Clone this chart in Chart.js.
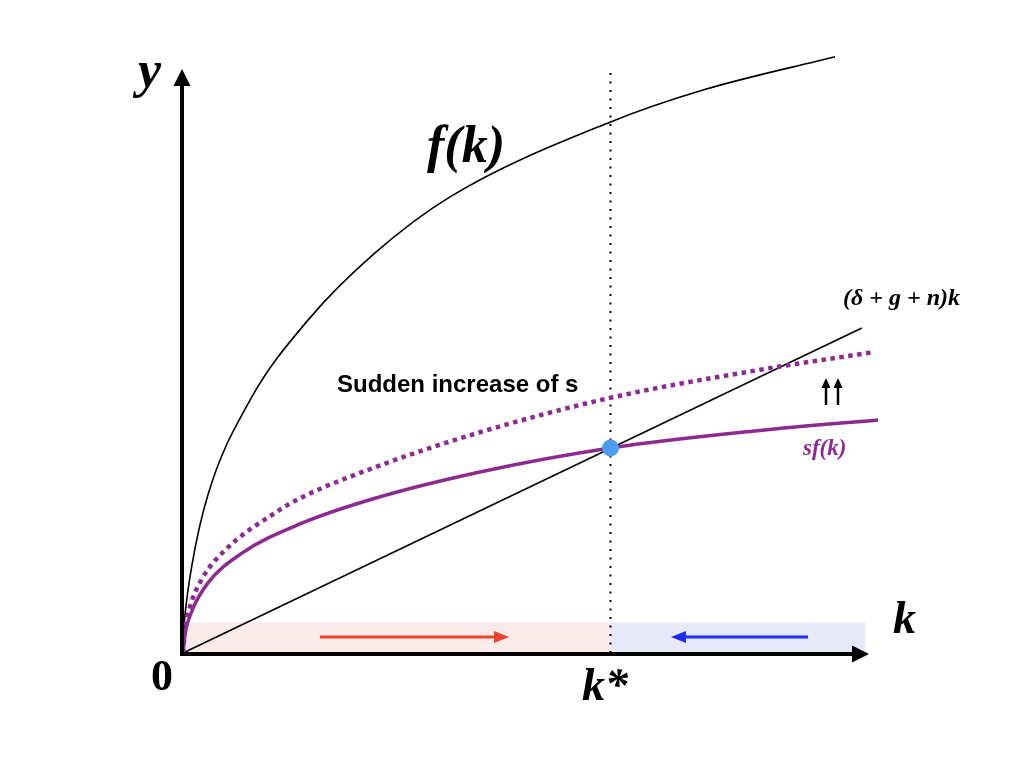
<!DOCTYPE html>
<html>
<head>
<meta charset="utf-8">
<script src="https://cdn.jsdelivr.net/npm/chart.js@4.4.1/dist/chart.umd.min.js"></script>
<style>
html,body{margin:0;padding:0;background:#fff;}
#wrap{width:1024px;height:768px;}
</style>
</head>
<body>
<div id="wrap"><canvas id="c" width="1024" height="768"></canvas></div>
<script>
// ---- data (k, y) ----
const fK   = [0, 0.012, 0.023, 0.105, 0.292, 0.784, 1.462, 2.246, 3.123, 4.994, 6.082, 7.626];
const fY   = [0, 0.45, 0.65, 1.51, 2.71, 4.33, 5.70, 6.85, 7.81, 9.09, 9.64, 10.21];

const sfK  = [0, 0.023, 0.105, 0.292, 0.690, 1.368, 2.246, 3.474, 5.0, 6.749, 8.129];
const sfY  = [0, 0.31, 0.72, 1.20, 1.71, 2.21, 2.65, 3.10, 3.51, 3.81, 3.99];

const sf2K = [0, 0.023, 0.082, 0.222, 0.491, 1.076, 1.368, 2.246, 3.474, 5.0, 6.749, 8.07];
const sf2Y = [0, 0.38, 0.79, 1.27, 1.76, 2.40, 2.65, 3.18, 3.78, 4.37, 4.85, 5.15];

const lineK = [0, 7.94];
const lineY = [0, 5.565];

const kStar = 5.0;
const yStar = 3.51;
const kStarLineY = [0, 10.02];

const bandTop = 0.52;
const bandEnd = 7.98;

const labels = {
  y: 'y', f: 'f(k)', dep: '(δ + g + n)k', sudden: 'Sudden increase of s',
  sf: 'sf(k)', k: 'k', zero: '0', kstar: 'k*'
};

const PURPLE = '#8C2A92';
const zip = (a, b) => a.map((v, i) => ({x: v, y: b[i]}));

function arrowHead(ctx, x, y, dx, dy, len, half, color) {
  const nx = -dy, ny = dx;
  ctx.beginPath();
  ctx.moveTo(x, y);
  ctx.lineTo(x - dx * len + nx * half, y - dy * len + ny * half);
  ctx.lineTo(x - dx * len - nx * half, y - dy * len - ny * half);
  ctx.closePath();
  ctx.fillStyle = color;
  ctx.fill();
}

const deco = {
  id: 'deco',
  beforeDatasetsDraw(chart) {
    const {ctx, scales: {x, y}} = chart;
    const x0 = x.getPixelForValue(0), xs = x.getPixelForValue(kStar), xe = x.getPixelForValue(bandEnd);
    const yb = y.getPixelForValue(0), yt = y.getPixelForValue(bandTop);
    ctx.save();
    ctx.fillStyle = '#FBEBE8';
    ctx.fillRect(x0, yt, xs - x0, yb - yt);
    ctx.fillStyle = '#E7E9FB';
    ctx.fillRect(xs, yt, xe - xs, yb - yt);
    // flow arrows
    const ay = 637;
    ctx.lineWidth = 3;
    ctx.strokeStyle = '#E8432B';
    ctx.beginPath(); ctx.moveTo(320, ay); ctx.lineTo(496, ay); ctx.stroke();
    arrowHead(ctx, 509, ay, 1, 0, 15, 6, '#E8432B');
    ctx.strokeStyle = '#1C2EF2';
    ctx.beginPath(); ctx.moveTo(808, ay); ctx.lineTo(684, ay); ctx.stroke();
    arrowHead(ctx, 671, ay, -1, 0, 15, 6, '#1C2EF2');
    ctx.restore();
  },
  afterDatasetsDraw(chart) {
    const {ctx, scales: {x, y}} = chart;
    const x0 = x.getPixelForValue(0), y0 = y.getPixelForValue(0);
    ctx.save();
    // axes
    ctx.strokeStyle = '#000';
    ctx.lineWidth = 4;
    ctx.beginPath();
    ctx.moveTo(x0 - 1, y0 + 1); ctx.lineTo(x0 - 1, 84);
    ctx.moveTo(x0 - 3, y0 + 1); ctx.lineTo(853, y0 + 1);
    ctx.stroke();
    arrowHead(ctx, x0 - 1, 69, 0, -1, 17, 8.5, '#000');
    arrowHead(ctx, 869, y0 + 1, 1, 0, 17, 8.5, '#000');
    // double up arrows
    ctx.lineWidth = 2.5;
    [826, 838].forEach(ax => {
      ctx.beginPath(); ctx.moveTo(ax, 405); ctx.lineTo(ax, 387); ctx.stroke();
      arrowHead(ctx, ax, 378, 0, -1, 10, 4.5, '#000');
    });
    // texts
    ctx.textBaseline = 'alphabetic';
    ctx.textAlign = 'left';
    ctx.fillStyle = '#000';
    ctx.font = 'italic bold 52px "Liberation Serif"';
    ctx.fillText(labels.y, 138, 87);
    ctx.fillText(labels.f, 427, 162);
    ctx.font = 'italic bold 46px "Liberation Serif"';
    ctx.fillText(labels.k, 893, 633);
    ctx.fillText(labels.kstar, 582, 700);
    ctx.font = 'bold 44px "Liberation Serif"';
    ctx.fillText(labels.zero, 151, 690);
    ctx.font = 'italic bold 24px "Liberation Serif"';
    ctx.fillText(labels.dep, 843, 305);
    ctx.font = 'bold 24px "Liberation Sans"';
    ctx.fillText(labels.sudden, 337, 392);
    ctx.fillStyle = PURPLE;
    ctx.font = 'italic bold 23px "Liberation Serif"';
    ctx.fillText(labels.sf, 803, 455);
    ctx.restore();
  }
};

const common = {showLine: true, pointRadius: 0, pointHoverRadius: 0, fill: false,
                cubicInterpolationMode: 'monotone', tension: 0.4, clip: false};

new Chart(document.getElementById('c'), {
  type: 'line',
  data: {
    datasets: [
      Object.assign({}, common, {order: 5, data: zip([kStar, kStar], kStarLineY), borderColor: '#000', borderWidth: 2, borderDash: [2, 6.5], cubicInterpolationMode: 'default', tension: 0}),
      Object.assign({}, common, {order: 4, data: zip(fK, fY), borderColor: '#000', borderWidth: 1.6}),
      Object.assign({}, common, {order: 3, data: zip(lineK, lineY), borderColor: '#000', borderWidth: 1.6, tension: 0, cubicInterpolationMode: 'default'}),
      Object.assign({}, common, {order: 2, data: zip(sf2K, sf2Y), borderColor: PURPLE, borderWidth: 4.5, borderDash: [4.5, 4.5]}),
      Object.assign({}, common, {order: 1, data: zip(sfK, sfY), borderColor: PURPLE, borderWidth: 3.5}),
      {order: 0, data: [{x: kStar, y: yStar}], showLine: false, pointRadius: 8.5, pointHoverRadius: 8.5,
       pointBackgroundColor: '#4A9FF2', pointBorderColor: '#4A9FF2', pointBorderWidth: 0, clip: false}
    ]
  },
  options: {
    responsive: false,
    animation: false,
    events: [],
    layout: {padding: {left: 183, right: 1024 - 183 - 9 * 85.5, top: 653 - 11 * 58.4, bottom: 768 - 653}},
    plugins: {legend: {display: false}, tooltip: {enabled: false}, title: {display: false}},
    scales: {
      x: {type: 'linear', min: 0, max: 9, display: false},
      y: {type: 'linear', min: 0, max: 11, display: false}
    }
  },
  plugins: [deco]
});
</script>
</body>
</html>
